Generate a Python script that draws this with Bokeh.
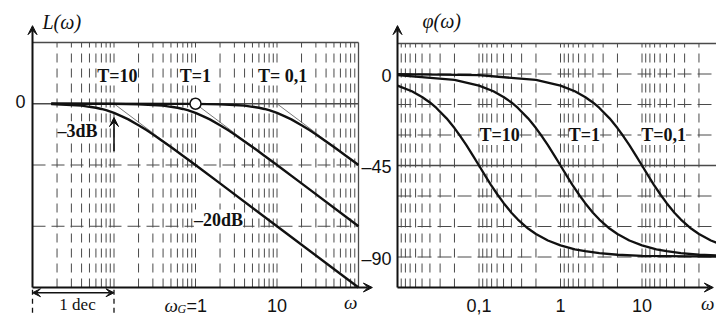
from bokeh.plotting import figure
from bokeh.models import Range1d, LogScale, Arrow, VeeHead, ColumnDataSource, LabelSet
from bokeh.core.properties import value
from bokeh.embed import file_html
from bokeh.resources import INLINE

# ---------------- data ----------------
T_VALUES = [10, 1, 0.1]
T_LABELS_L = ["T=10", "T=1", "T= 0,1"]
T_LABELS_R = ["T=10", "T=1", "T=0,1"]

# magnitude curves L(w) in dB
MAG_T10_W = [0.017, 0.03, 0.04, 0.05, 0.06, 0.07, 0.08, 0.1, 0.125, 0.15, 0.2, 0.25, 0.3, 0.4, 0.5, 0.7, 1, 2, 10, 100]
MAG_T10_DB = [-0.1, -0.4, -0.6, -1.0, -1.3, -1.7, -2.1, -3.0, -4.1, -5.1, -7.0, -8.6, -10.0, -12.3, -14.1, -17.0, -20.0, -26.0, -40.0, -60.0]
MAG_T1_W = [0.017, 0.1, 0.2, 0.3, 0.4, 0.5, 0.6, 0.7, 0.8, 1, 1.25, 1.5, 2, 2.5, 3, 4, 5, 7, 10, 20, 100]
MAG_T1_DB = [0.0, -0.04, -0.2, -0.4, -0.6, -1.0, -1.3, -1.7, -2.1, -3.0, -4.1, -5.1, -7.0, -8.6, -10.0, -12.3, -14.1, -17.0, -20.0, -26.0, -40.0]
MAG_T01_W = [0.017, 1, 2, 3, 4, 5, 6, 7, 8, 10, 12.5, 15, 20, 25, 30, 40, 50, 70, 100]
MAG_T01_DB = [0.0, -0.04, -0.2, -0.4, -0.6, -1.0, -1.3, -1.7, -2.1, -3.0, -4.1, -5.1, -7.0, -8.6, -10.0, -12.3, -14.1, -17.0, -20.0]

# asymptotes (thin): start at corner frequency (0 dB), end at w=100
ASYM_W0 = [0.1, 1, 10]
ASYM_W1 = [100, 100, 100]
ASYM_DB1 = [-60, -40, -20]

# phase curves phi(w) in degrees
PH_T10_W = [0.01, 0.015, 0.02, 0.025, 0.03, 0.04, 0.05, 0.06, 0.07, 0.085, 0.1, 0.12, 0.14, 0.17, 0.2, 0.25, 0.3, 0.4, 0.5, 0.7, 1, 1.5, 2, 3, 5, 10, 100]
PH_T10 = [-5.7, -8.5, -11.3, -14.0, -16.7, -21.8, -26.6, -31.0, -35.0, -40.4, -45.0, -50.2, -54.5, -59.5, -63.4, -68.2, -71.6, -76.0, -78.7, -81.9, -84.3, -86.2, -87.1, -88.1, -88.9, -89.4, -89.9]
PH_T1_W = [0.01, 0.05, 0.1, 0.15, 0.2, 0.25, 0.3, 0.4, 0.5, 0.6, 0.7, 0.85, 1, 1.2, 1.4, 1.7, 2, 2.5, 3, 4, 5, 7, 10, 15, 20, 30, 50, 100]
PH_T1 = [-0.6, -2.9, -5.7, -8.5, -11.3, -14.0, -16.7, -21.8, -26.6, -31.0, -35.0, -40.4, -45.0, -50.2, -54.5, -59.5, -63.4, -68.2, -71.6, -76.0, -78.7, -81.9, -84.3, -86.2, -87.1, -88.1, -88.9, -89.4]
PH_T01_W = [0.01, 0.1, 0.5, 1, 1.5, 2, 2.5, 3, 4, 5, 6, 7, 8.5, 10, 12, 14, 17, 20, 25, 30, 40, 50, 70, 100]
PH_T01 = [-0.1, -0.6, -2.9, -5.7, -8.5, -11.3, -14.0, -16.7, -21.8, -26.6, -31.0, -35.0, -40.4, -45.0, -50.2, -54.5, -59.5, -63.4, -68.2, -71.6, -76.0, -78.7, -81.9, -84.3]

# axes / ticks
W_MIN, W_MAX = 0.01, 100
DB_MIN, DB_MAX = -60, 20
DB_DASHED = [-20, -40]
DB_SOLID = [0, 20]
PH_MIN, PH_MAX = -105, 15
PH_DASHED = [0, -15, -30, -60, -75, -90]
PH_SOLID = [-45, 15]
DECADES = [-2, -1, 0, 1]
MULTS = [2, 3, 4, 5, 6, 7, 8, 9]
L_XTICKS = [10]
L_XTICK_LABELS = ["10"]
R_XTICKS = [0.1, 1, 10]
R_XTICK_LABELS = ["0,1", "1", "10"]
R_YTICKS = [0, -45, -90]
R_YTICK_LABELS = ["0", "–45", "–90"]
W_G = 1            # marked corner frequency
DEC_SPAN = [0.01, 0.1]

# ---------------- layout (figure pixels) ----------------
W, H = 716, 315
L_X0, L_X1 = 32, 358     # pixel of w=0.01 and w=100 (left)
R_X0, R_X1 = 397, 723    # pixel of w=0.01 and w=100 (right)
L_YT, L_YB = 42, 287     # pixel of +20 dB and -60 dB
R_YT, R_YB = 43, 287     # pixel of +15 deg and -105 deg


def span(va, a, vb, b, size):
    k = (vb - va) / (b - a)
    return va - a * k, va + (size - a) * k


lx0, lx1 = span(-2, L_X0, 2, L_X1, W)
rx0, rx1 = span(-2, R_X0, 2, R_X1, W)
ly_top, ly_bot = span(DB_MAX, L_YT, DB_MIN, L_YB, H)
ry_top, ry_bot = span(PH_MAX, R_YT, PH_MIN, R_YB, H)

p = figure(width=W, height=H, x_axis_type="log",
           x_range=Range1d(10 ** lx0, 10 ** lx1), y_range=Range1d(ly_bot, ly_top),
           x_axis_location=None, y_axis_location=None, min_border=0,
           toolbar_location=None, output_backend="svg")
p.x_scale = LogScale()
p.outline_line_color = None
p.background_fill_color = "white"
p.border_fill_color = "white"
p.xgrid.visible = False
p.ygrid.visible = False
p.extra_x_ranges = {"r": Range1d(10 ** rx0, 10 ** rx1)}
p.extra_x_scales = {"r": LogScale()}
p.extra_y_ranges = {"ph": Range1d(ry_bot, ry_top)}
R = dict(x_range_name="r", y_range_name="ph")
R_EDGE = 10 ** rx1

GRID = "#4a4a4a"
INK = "#111111"
SERIF = value("Liberation Serif")
SANS = value("Liberation Sans")

# ---------- left panel grid ----------
l_vgrid = [m * 10 ** d for d in DECADES for m in MULTS] + [10 ** d for d in DECADES[1:]]
p.segment(x0=l_vgrid, y0=[DB_MIN] * len(l_vgrid), x1=l_vgrid, y1=[DB_MAX] * len(l_vgrid),
          line_color=GRID, line_width=1, line_dash="9 6")
p.segment(x0=[W_MIN] * 2, y0=DB_DASHED, x1=[W_MAX] * 2, y1=DB_DASHED,
          line_color=GRID, line_width=1, line_dash="13 6")
p.segment(x0=[W_MIN] * 2, y0=DB_SOLID, x1=[W_MAX] * 2, y1=DB_SOLID,
          line_color=GRID, line_width=1.3)
p.segment(x0=[W_MAX], y0=[DB_MIN], x1=[W_MAX], y1=[DB_MAX], line_color=GRID, line_width=1.3)

# ---------- right panel grid (mirrored minor lines) ----------
r_vgrid = [10 ** (d + 1) / m for d in DECADES for m in MULTS] + [10 ** d for d in DECADES[1:]]
p.segment(x0=r_vgrid, y0=[PH_MIN] * len(r_vgrid), x1=r_vgrid, y1=[PH_MAX] * len(r_vgrid),
          line_color=GRID, line_width=1, line_dash="9 6", **R)
p.segment(x0=[W_MIN] * len(PH_DASHED), y0=PH_DASHED, x1=[R_EDGE] * len(PH_DASHED), y1=PH_DASHED,
          line_color=GRID, line_width=1, line_dash="14 6", **R)
p.segment(x0=[W_MIN] * 2, y0=PH_SOLID, x1=[R_EDGE] * 2, y1=PH_SOLID,
          line_color=GRID, line_width=1.3, **R)

# ---------- left panel curves ----------
p.segment(x0=ASYM_W0, y0=[0, 0, 0], x1=ASYM_W1, y1=ASYM_DB1, line_color="#555555", line_width=0.8)
for xs, ys in [(MAG_T10_W, MAG_T10_DB), (MAG_T1_W, MAG_T1_DB), (MAG_T01_W, MAG_T01_DB)]:
    p.line(xs, ys, line_color=INK, line_width=2.4)
p.scatter(x=[W_G], y=[0], size=11, marker="circle", fill_color="white", line_color=INK, line_width=1.5)

# ---------- right panel curves ----------
for xs, ys in [(PH_T10_W, PH_T10), (PH_T1_W, PH_T1), (PH_T01_W, PH_T01)]:
    p.line(xs, ys, line_color=INK, line_width=2.3, **R)

# ---------- axes with arrows ----------
head = dict(size=9, fill_color=INK, line_color=INK)
p.add_layout(Arrow(end=VeeHead(**head), x_start=W_MIN, y_start=DB_MIN, x_end=W_MIN, y_end=25.5,
                   line_width=2, line_color=INK))
p.add_layout(Arrow(end=VeeHead(**head), x_start=W_MIN, y_start=DB_MIN, x_end=148, y_end=DB_MIN,
                   line_width=2, line_color=INK))
p.add_layout(Arrow(end=VeeHead(**head), x_start=W_MIN, y_start=PH_MIN, x_end=W_MIN, y_end=23.8,
                   line_width=2, line_color=INK, **R))
p.add_layout(Arrow(end=VeeHead(**head), x_start=W_MIN, y_start=PH_MIN, x_end=75, y_end=PH_MIN,
                   line_width=2, line_color=INK, **R))

# -3 dB arrow
p.add_layout(Arrow(end=VeeHead(size=9, fill_color=INK, line_color=INK), x_start=0.1, y_start=-15.5,
                   x_end=0.1, y_end=-4.5, line_width=1.6, line_color=INK))
# 1 dec double arrow
p.add_layout(Arrow(start=VeeHead(size=8, fill_color=INK, line_color=INK),
                   end=VeeHead(size=8, fill_color=INK, line_color=INK),
                   x_start=DEC_SPAN[0], y_start=-61.7, x_end=DEC_SPAN[1], y_end=-61.7,
                   line_width=1.4, line_color=INK))
p.segment(x0=DEC_SPAN, y0=[-60.7, -60.7], x1=DEC_SPAN, y1=[-68.8, -68.8],
          line_color=INK, line_width=1.3, line_dash="5 4")

# ---------- texts ----------
# axis titles
p.text(x=[W_MIN], y=[DB_MAX], text=["L(ω)"], text_font=SERIF, text_font_style="italic",
       text_font_size="20px", text_align="left", text_baseline="middle", x_offset=10, y_offset=-21,
       text_color=INK)
p.text(x=[W_MIN], y=[PH_MAX], text=["φ(ω)"], text_font=SERIF, text_font_style="italic",
       text_font_size="20px", text_align="left", text_baseline="middle", x_offset=25, y_offset=-23,
       text_color=INK, **R)
# omega at x-axis ends
p.text(x=[80], y=[DB_MIN], text=["ω"], text_font=SERIF, text_font_style="italic",
       text_font_size="19px", text_align="center", text_baseline="middle", y_offset=15, text_color=INK)
p.text(x=[64], y=[PH_MIN], text=["ω"], text_font=SERIF, text_font_style="italic",
       text_font_size="19px", text_align="center", text_baseline="middle", y_offset=16, text_color=INK, **R)

# left ticks
p.text(x=[W_MIN], y=[0], text=["0"], text_font=SANS, text_font_size="18px", text_align="right",
       text_baseline="middle", x_offset=-7, y_offset=-2, text_color=INK)
p.text(x=L_XTICKS, y=[DB_MIN] * len(L_XTICKS), text=L_XTICK_LABELS, text_font=SANS, text_font_size="18px",
       text_align="center", text_baseline="middle", y_offset=18, text_color=INK)
p.text(x=[W_G], y=[DB_MIN], text=["ω"], text_font=SERIF, text_font_style="italic", text_font_size="19px",
       text_align="left", text_baseline="middle", x_offset=-31, y_offset=18, text_color=INK)
p.text(x=[W_G], y=[DB_MIN], text=["G"], text_font=SERIF, text_font_style="italic", text_font_size="12px",
       text_align="left", text_baseline="middle", x_offset=-18, y_offset=21, text_color=INK)
p.text(x=[W_G], y=[DB_MIN], text=["=1"], text_font=SANS, text_font_size="18px",
       text_align="left", text_baseline="middle", x_offset=-9, y_offset=18, text_color=INK)
# 1 dec
p.text(x=[0.0357], y=[-65.4], text=["1 dec"], text_font=SERIF, text_font_size="17px",
       text_align="center", text_baseline="middle", text_color=INK)

# right ticks
p.text(x=[W_MIN] * 3, y=R_YTICKS, text=R_YTICK_LABELS, text_font=SANS, text_font_size="18px",
       text_align="right", text_baseline="middle", x_offset=-6, y_offset=1.5, text_color=INK, **R)
p.text(x=R_XTICKS, y=[PH_MIN] * 3, text=R_XTICK_LABELS, text_font=SANS, text_font_size="18px",
       text_align="center", text_baseline="middle", y_offset=18, text_color=INK, **R)

# curve labels with white background
lab_l = ColumnDataSource(dict(x=[0.11, 1.0, 11.7, 0.0357, 1.91],
                              y=[9.2, 9.2, 9.2, -9.0, -37.8],
                              text=T_LABELS_L + ["–3dB", "–20dB"]))
p.add_layout(LabelSet(x="x", y="y", text="text", source=lab_l, text_align="center", text_baseline="middle",
                      text_font=SERIF, text_font_style="bold", text_font_size=value("18px"),
                      text_color=INK, background_fill_color="white"))
lab_r = ColumnDataSource(dict(x=[0.179, 1.97, 18.4], y=[-30, -30, -30], text=T_LABELS_R))
p.add_layout(LabelSet(x="x", y="y", text="text", source=lab_r, text_align="center", text_baseline="middle",
                      text_font=SERIF, text_font_style="bold", text_font_size=value("18px"),
                      text_color=INK, background_fill_color="white", **R))

open("out.html", "w").write(file_html(p, INLINE))
